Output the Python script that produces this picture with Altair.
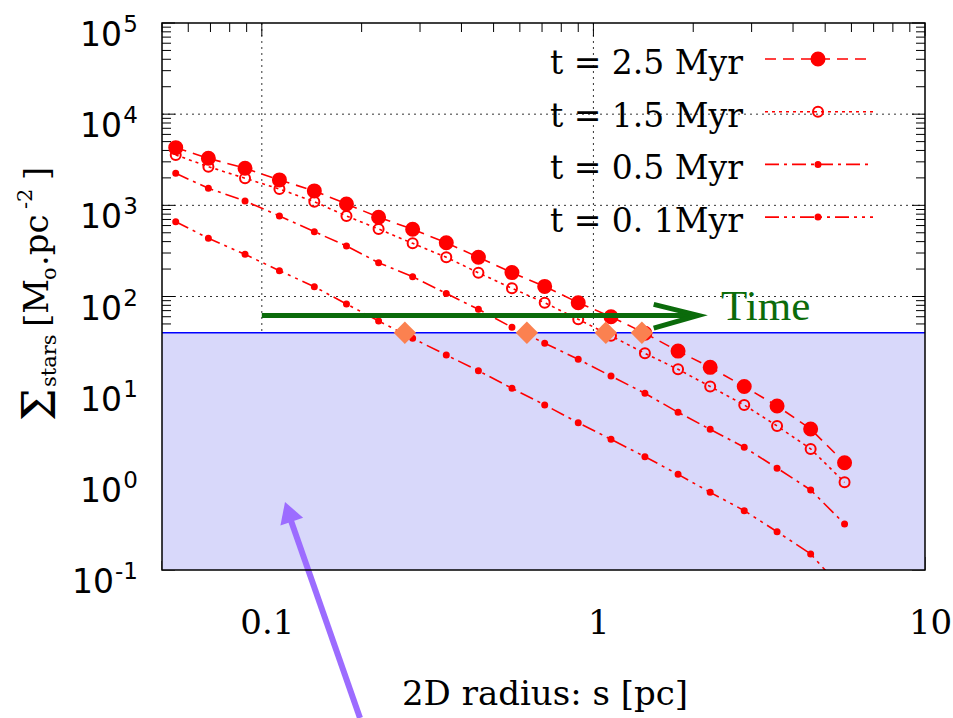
import altair as alt
import pandas as pd

# ---------------- data ----------------
RADIUS = [0.055, 0.069, 0.089, 0.113, 0.144, 0.180, 0.225, 0.285, 0.360, 0.450,
          0.568, 0.713, 0.900, 1.13, 1.43, 1.80, 2.25, 2.85, 3.58, 4.52, 5.72]
SIGMA_25 = [4290, 3280, 2550, 1900, 1440, 1035, 740, 546, 389, 269,
            183, 129, 85.5, 60, 39.5, 25.2, 16.7, 10.3, 6.3, 3.52, 1.50]
SIGMA_15 = [3565, 2655, 1980, 1511, 1096, 764, 550, 383, 269, 182,
            123, 85.5, 56.2, 37, 23.8, 15.9, 10.3, 6.46, 3.80, 2.13, 0.916]
SIGMA_05 = [2245, 1537, 1116, 764, 514, 358, 235, 165, 108, 72.4,
            45.9, 30.7, 20.5, 13.4, 8.67, 5.37, 3.49, 2.22, 1.31, 0.755, 0.32]
SIGMA_01 = [662, 435, 290, 192, 128, 82.8, 53.9, 34.8, 22.8, 15.3,
            9.84, 6.46, 4.13, 2.71, 1.75, 1.12, 0.711, 0.448, 0.263, 0.150, 0.058]
SERIES = ["t = 2.5 Myr", "t = 1.5 Myr", "t = 0.5 Myr", "t = 0. 1Myr"]

THRESHOLD = 40
CROSS_X = [0.27, 0.63, 1.09, 1.40]

TIME_SHAFT_X = [0.1, 2.0]
TIME_Y = 62
TIME_HEAD_X = [1.52, 2.07, 1.52]
TIME_HEAD_Y = [82, 62, 45]

X_TICKS = [0.1, 1, 10]
X_MINOR = [0.05, 0.06, 0.07, 0.08, 0.09, 0.2, 0.3, 0.4, 0.5, 0.6, 0.7, 0.8, 0.9,
           2, 3, 4, 5, 6, 7, 8, 9]
Y_TICKS = [0.1, 1, 10, 100, 1000, 10000, 100000]
Y_EXPONENTS = ["-1", "0", "1", "2", "3", "4", "5"]
Y_MINOR = [m * d for d in [0.1, 1, 10, 100, 1000, 10000] for m in range(2, 10)]

# ---------------- layout / style ----------------
W, H = 763, 547
RED = "#ff0000"
GREEN = "#0b6b0b"
PURPLE = "#9c6cff"
SHADE = "#d8d8fa"
DASHES = [[11, 7], [3, 4], [14, 5, 3, 5], [14, 5, 3, 5, 3, 5]]
PT_SIZE = [169, 100, 25, 25]
PT_FILL = [1, 0, 1, 1]

xscale = alt.Scale(type="log", domain=[0.05, 10], nice=False)
yscale = alt.Scale(type="log", domain=[0.1, 100000], nice=False)
xaxis = alt.Axis(values=X_TICKS, format="~g", grid=False, ticks=False, tickSize=0,
                 domain=False, labelFont="DejaVu Serif", labelFontSize=34,
                 labelColor="black", labelPadding=36, labelOffset=5,
                 labelFlush=False, labelOverlap=False, title=None)
X = alt.X("x:Q", scale=xscale, axis=xaxis)
Y = alt.Y("y:Q", scale=yscale, axis=None)

dash_enc = alt.StrokeDash("series:N", scale=alt.Scale(type="ordinal", domain=SERIES, range=DASHES), legend=None)
size_enc = alt.Size("series:N", scale=alt.Scale(type="ordinal", domain=SERIES, range=PT_SIZE), legend=None)
fop_enc = alt.FillOpacity("series:N", scale=alt.Scale(type="ordinal", domain=SERIES, range=PT_FILL), legend=None)

rows = []
for name, vals in zip(SERIES, [SIGMA_25, SIGMA_15, SIGMA_05, SIGMA_01]):
    for r, s in zip(RADIUS, vals):
        rows.append({"series": name, "x": r, "y": s})
df = pd.DataFrame(rows)

one = pd.DataFrame({"d": [0]})
layers = []

# grid
layers.append(alt.Chart(pd.DataFrame({"x": X_TICKS[:-1]})).mark_rule(
    color="#333333", strokeDash=[2, 4], strokeWidth=1).encode(
    x=X, y=alt.value(0), y2=alt.value(H)))
layers.append(alt.Chart(pd.DataFrame({"y": Y_TICKS[1:-1]})).mark_rule(
    color="#333333", strokeDash=[2, 4], strokeWidth=1).encode(
    y=Y, x=alt.value(0), x2=alt.value(W)))

# inward ticks
def yticks(vals, side, length):
    x0 = 0 if side == "left" else W
    x1 = length if side == "left" else W - length
    return alt.Chart(pd.DataFrame({"y": vals})).mark_rule(color="black", strokeWidth=1).encode(
        y=Y, x=alt.value(x0), x2=alt.value(x1))

def xticks(vals, side, length):
    y0 = 0 if side == "top" else H
    y1 = length if side == "top" else H - length
    return alt.Chart(pd.DataFrame({"x": vals})).mark_rule(color="black", strokeWidth=1).encode(
        x=X, y=alt.value(y0), y2=alt.value(y1))

for side in ["left", "right"]:
    layers.append(yticks(Y_TICKS, side, 13))
    layers.append(yticks(Y_MINOR, side, 9))
for side in ["top", "bottom"]:
    layers.append(xticks(X_TICKS, side, 13))
    layers.append(xticks(X_MINOR, side, 9))

# shaded region and threshold
layers.append(alt.Chart(pd.DataFrame({"y": [0.1], "y2": [THRESHOLD]})).mark_rect(color=SHADE).encode(
    x=alt.value(0), x2=alt.value(W), y=Y, y2=alt.Y2("y2:Q")))
layers.append(alt.Chart(pd.DataFrame({"y": [THRESHOLD]})).mark_rule(color="#0000ff", strokeWidth=1.5).encode(
    y=Y, x=alt.value(0), x2=alt.value(W)))

# data
layers.append(alt.Chart(df).mark_line(color=RED, strokeWidth=1.6, clip=True).encode(
    x=X, y=Y, strokeDash=dash_enc))
layers.append(alt.Chart(df).mark_point(shape="circle", filled=True, color=RED, stroke=RED,
                                       strokeWidth=2, opacity=1, clip=True).encode(
    x=X, y=Y, size=size_enc, fillOpacity=fop_enc))

# crossing diamonds
layers.append(alt.Chart(pd.DataFrame({"x": CROSS_X, "y": [THRESHOLD] * len(CROSS_X)})).mark_point(
    shape="diamond", filled=True, color="#fb8150", size=500, opacity=1).encode(x=X, y=Y))

# Time arrow
layers.append(alt.Chart(pd.DataFrame({"x": [TIME_SHAFT_X[0]], "x2": [TIME_SHAFT_X[1]], "y": [TIME_Y]})).mark_rule(
    color=GREEN, strokeWidth=5).encode(x=X, x2=alt.X2("x2:Q"), y=Y))
layers.append(alt.Chart(pd.DataFrame({"x": TIME_HEAD_X, "y": TIME_HEAD_Y, "o": [0, 1, 2]})).mark_line(
    color=GREEN, strokeWidth=5, strokeJoin="miter").encode(x=X, y=Y, order="o:Q"))
layers.append(alt.Chart(one).mark_text(text="Time", align="left", baseline="alphabetic",
                                       font="Liberation Serif", fontSize=43, color=GREEN).encode(
    x=alt.value(559), y=alt.value(297)))

# purple arrow
layers.append(alt.Chart(one).mark_rule(color=PURPLE, strokeWidth=6).encode(
    x=alt.value(198), y=alt.value(695), x2=alt.value(127), y2=alt.value(492)))
layers.append(alt.Chart(one).mark_point(shape="triangle-up", filled=True, color=PURPLE, size=576,
                                        angle=341, opacity=1).encode(
    x=alt.value(126.4), y=alt.value(488.8)))

# legend (labels left, samples right)
for i, name in enumerate(SERIES):
    ry = 36 + 52.7 * i
    ldf = pd.DataFrame({"series": [name]})
    layers.append(alt.Chart(ldf).mark_text(align="right", baseline="alphabetic", font="DejaVu Serif",
                                           fontSize=33, color="black").encode(
        text="series:N", x=alt.value(581), y=alt.value(ry + 15)))
    layers.append(alt.Chart(ldf).mark_rule(color=RED, strokeWidth=1.6).encode(
        x=alt.value(603), x2=alt.value(711), y=alt.value(ry), strokeDash=dash_enc))
    layers.append(alt.Chart(ldf).mark_point(shape="circle", filled=True, color=RED, stroke=RED,
                                            strokeWidth=2, opacity=1).encode(
        x=alt.value(656), y=alt.value(ry), size=size_enc, fillOpacity=fop_enc))

# y tick labels: 10 with superscript exponent
ylab = pd.DataFrame({"y": Y_TICKS, "exp": Y_EXPONENTS})
layers.append(alt.Chart(ylab).transform_filter("length(datum.exp) == 1").mark_text(
    text="10", align="right", baseline="alphabetic", font="DejaVu Sans", fontSize=33, dy=23,
    color="black").encode(y=Y, x=alt.value(-40)))
layers.append(alt.Chart(ylab).transform_filter("length(datum.exp) == 2").mark_text(
    text="10", align="right", baseline="alphabetic", font="DejaVu Sans", fontSize=33, dy=23,
    color="black").encode(y=Y, x=alt.value(-48)))
layers.append(alt.Chart(ylab).mark_text(
    align="right", baseline="alphabetic", font="DejaVu Sans", fontSize=23, dy=9,
    color="black").encode(y=Y, x=alt.value(-24), text="exp:N"))

# y title built from pieces (rotated)
def piece(txt, px, py, size):
    return alt.Chart(pd.DataFrame({"t": [txt]})).mark_text(
        angle=270, align="left", baseline="alphabetic", font="DejaVu Serif",
        fontSize=size, color="black").encode(text="t:N", x=alt.value(px), y=alt.value(py))

layers += [
    piece("\u03a3", -107, 398, 46),
    piece("stars", -106, 364, 21),
    piece("[M", -114, 304, 34),
    piece("o", -106, 257, 21),
    piece(".pc", -114, 243, 34),
    piece("-2", -130, 186, 21),
    piece("]", -114, 157, 34),
]

# x title
layers.append(alt.Chart(one).mark_text(text="2D radius: s [pc]", align="center", baseline="alphabetic",
                                       font="DejaVu Serif", fontSize=34, color="black").encode(
    x=alt.value(383), y=alt.value(682)))

# frame
layers.append(alt.Chart(one).mark_rect(fillOpacity=0, stroke="black", strokeWidth=1.5).encode(
    x=alt.value(0), x2=alt.value(W), y=alt.value(0), y2=alt.value(H)))

chart = alt.layer(*layers).properties(
    width=W, height=H,
    padding={"left": 162, "top": 23, "right": 28, "bottom": 148},
    autosize=alt.AutoSizeParams(type="none"),
    background="white",
).configure_view(stroke=None)

chart.save("out.html", embed_options={"renderer": "svg", "actions": False})
